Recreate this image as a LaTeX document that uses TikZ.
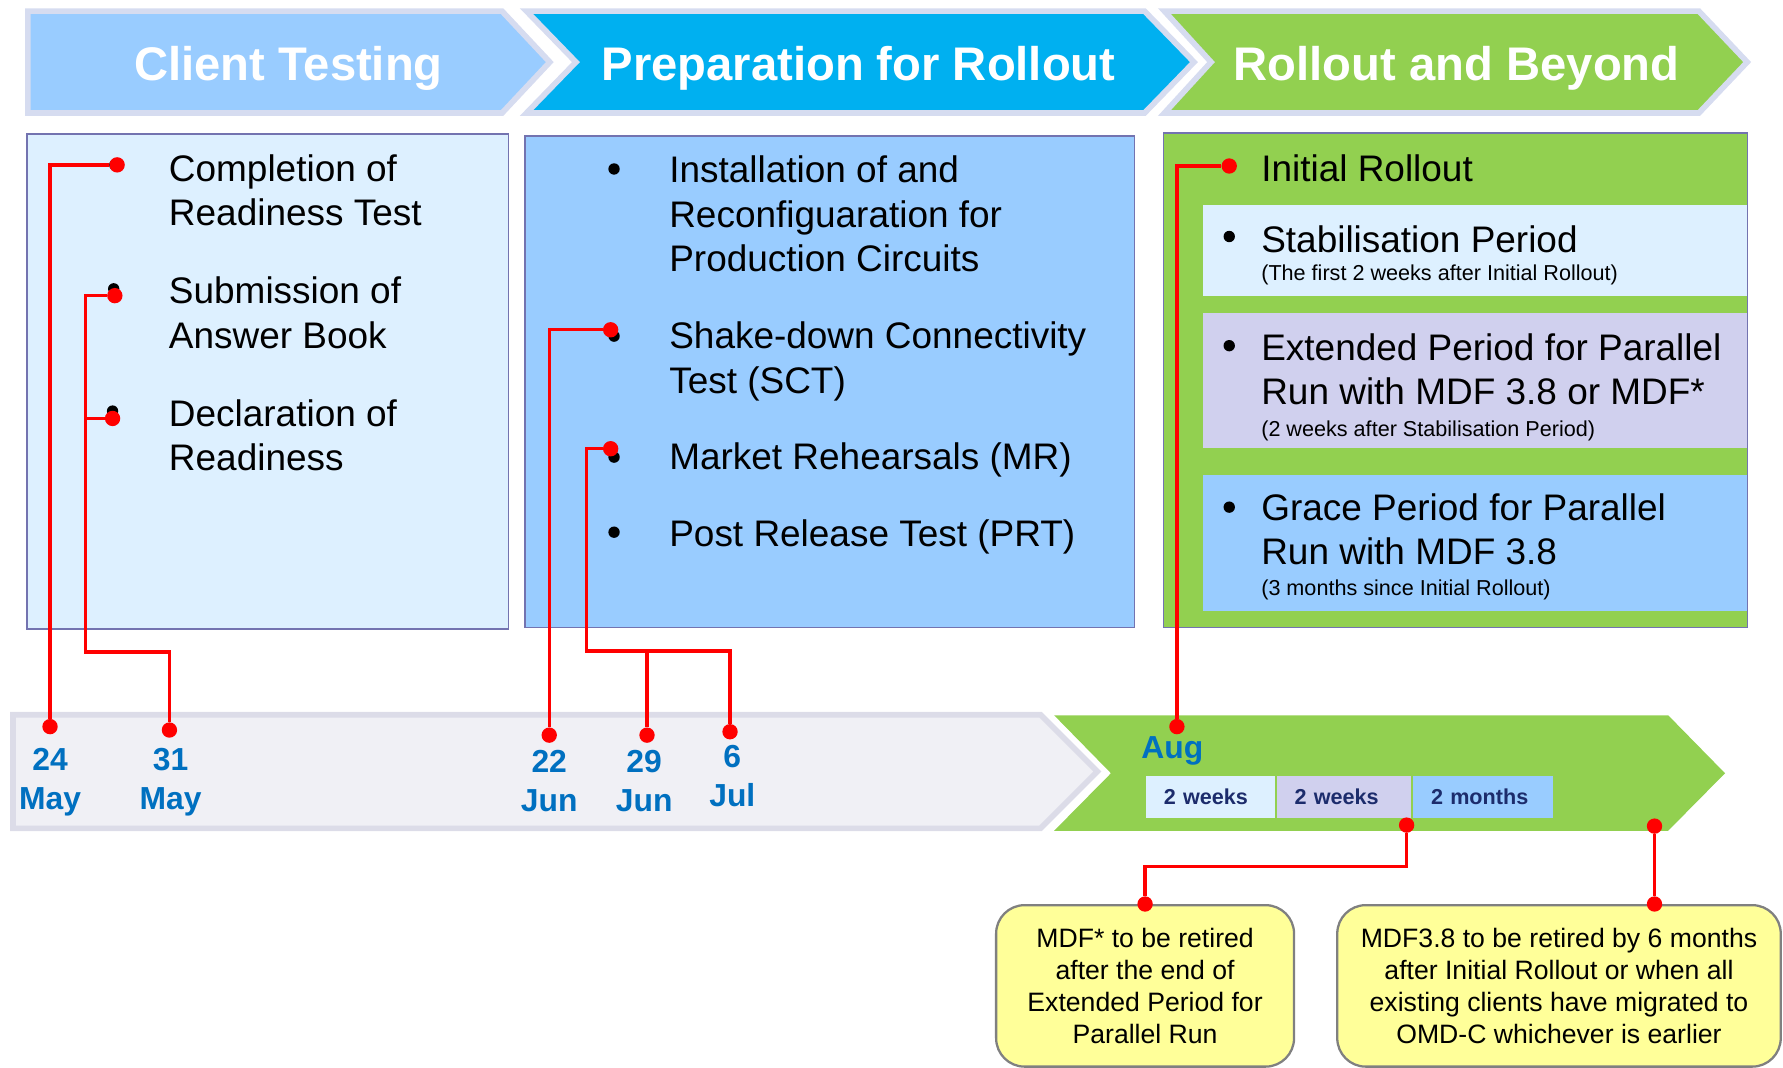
\documentclass[tikz,border=0pt]{standalone}
\usepackage{fontspec}
\setmainfont{Liberation Sans}
\usepackage{tikz}
\usetikzlibrary{calc}

\definecolor{hdredge}{HTML}{D6DCF0}
\definecolor{paleblue}{HTML}{DDF0FF}
\definecolor{midblue}{HTML}{99CCFF}
\definecolor{cyanhdr}{HTML}{00B0F0}
\definecolor{rolloutgreen}{HTML}{92D050}
\definecolor{lavender}{HTML}{D0D0EE}
\definecolor{paneledge}{HTML}{7373B0}
\definecolor{datecol}{HTML}{0070C0}
\definecolor{spantext}{HTML}{1C2C6C}
\definecolor{barfill}{HTML}{F0F0F5}
\definecolor{baredge}{HTML}{DCDCE8}
\definecolor{notefill}{HTML}{FFFF99}
\definecolor{noteedge}{HTML}{808080}

\tikzset{
    % chevrons of the three phases along the top
    phasearrow/.style={draw=hdredge, line width=5pt},
    phasetitle/.style={anchor=base, inner sep=0pt, text=white,
        font=\bfseries\fontsize{41.5}{50}\selectfont},
    % framed panels below the chevrons
    panelbox/.style={draw=paneledge, line width=1.2pt},
    itemtext/.style={anchor=north west, inner sep=0pt, align=left,
        font=\fontsize{32.5}{39}\selectfont},
    smalltext/.style={anchor=north west, inner sep=0pt,
        font=\fontsize{19}{23}\selectfont},
    itembullet/.style={circle, fill=black, inner sep=0pt, minimum size=10pt},
    % red pins and the lines joining them
    reddot/.style={circle, fill=red, inner sep=0pt, minimum size=13.5pt},
    redlink/.style={draw=red, line width=3pt},
    % timeline labels
    datelabel/.style={anchor=north, inner sep=0pt, align=center, text=datecol,
        font=\bfseries\fontsize{28}{34}\selectfont},
    spanbox/.style={minimum height=37pt, inner xsep=15.5pt, inner ysep=0pt,
        align=left, text=spantext, font=\bfseries\fontsize{19}{23}\selectfont},
    notebox/.style={draw=noteedge, fill=notefill, line width=2pt,
        rounded corners=25pt, align=center, inner sep=0pt,
        font=\fontsize{23.4}{28}\selectfont}
}

\begin{document}
\begin{tikzpicture}[x=1pt, y=-1pt]
    \useasboundingbox (0,0) rectangle (1568,939.2);
    \draw[phasearrow, fill=midblue] (24.5,9.8) -- (441.5,9.8) -- (483.5,54.6) -- (441.5,99.4) -- (24.5,99.4) -- cycle;
    \draw[phasearrow, fill=cyanhdr] (463,9.8) -- (1006.5,9.8) -- (1050,54.6) -- (1006.5,99.4) -- (463,99.4) -- (506.5,54.6) -- cycle;
    \draw[phasearrow, fill=rolloutgreen] (1024,9.8) -- (1494,9.8) -- (1536.5,54.6) -- (1494,99.4) -- (1024,99.4) -- (1065,54.6) -- cycle;
    \node[phasetitle] (ph1) at (253.7,70.4) {Client Testing};
    \node[phasetitle] (ph2) at (755,70.4) {Preparation for Rollout};
    \node[phasetitle] (ph3) at (1281,70.4) {Rollout and Beyond};

    \draw[panelbox, fill=paleblue] (23.6,117.7) rectangle (446.9,553);
    \draw[panelbox, fill=midblue] (461.7,119.6) rectangle (997.6,552);
    \draw[panelbox, fill=rolloutgreen] (1023,117) rectangle (1537,552);
    \fill[paleblue] (1057.6,180) rectangle (1536.4,260);
    \fill[lavender] (1057.6,275) rectangle (1536.4,394);
    \fill[midblue] (1057.6,418) rectangle (1536.4,537);

    \node[itemtext] (ct1) at (148.4,135.8) {Completion of\\Readiness Test};
    \node[itemtext] (ct2) at (148.4,243.3) {Submission of\\Answer Book};
    \node[itemtext] (ct3) at (148.4,351) {Declaration of\\Readiness};
    \node[itemtext] (pr1) at (588.4,137) {Installation of and\\Reconfiguaration for\\Production Circuits};
    \node[itemtext] (pr2) at (588.4,283) {Shake-down Connectivity\\Test (SCT)};
    \node[itemtext] (pr3) at (588.4,389.5) {Market Rehearsals (MR)};
    \node[itemtext] (pr4) at (588.4,457) {Post Release Test (PRT)};
    \node[itemtext] (ro1) at (1109,136) {Initial Rollout};
    \node[itemtext] (ro2) at (1109,198) {Stabilisation Period};
    \node[smalltext] (ro2s) at (1109,233) {(The first 2 weeks after Initial Rollout)};
    \node[itemtext] (ro3) at (1109,293) {Extended Period for Parallel\\Run with MDF 3.8 or MDF*};
    \node[smalltext] (ro3s) at (1109,369.5) {(2 weeks after Stabilisation Period)};
    \node[itemtext] (ro4) at (1109,434) {Grace Period for Parallel\\Run with MDF 3.8};
    \node[smalltext] (ro4s) at (1109,509.5) {(3 months since Initial Rollout)};
    \foreach \x/\y [count=\i] in {101/145, 100/254, 99/361.5, 540/148.6, 540/295.6,
        540/402, 540/468, 1081/146, 1081/208, 1081/304, 1081/446} {
        \node[itembullet] (bul\i) at (\x,\y) {};
    }

    \draw[line width=5pt, draw=baredge, fill=barfill] (11.5,628.5) -- (915,628.5) -- (965,678.5) -- (915,728.5) -- (11.5,728.5) -- cycle;
    \fill[rolloutgreen] (927,629) -- (1467,629) -- (1517,680) -- (1467,730.6) -- (927,730.6) -- (977,680) -- cycle;
    \node[spanbox, fill=paleblue, text width=82pt] (wk1) at (1064.5,701) {2 weeks};
    \node[spanbox, fill=lavender, text width=86.7pt] (wk2) at (1181.85,701) {2 weeks};
    \node[spanbox, fill=midblue, text width=92pt] (wk3) at (1304.5,701) {2 months};
    \node[datelabel] (aug) at (1031,648) {Aug};
    \foreach \n/\dx/\dy/\lx/\ly/\dd/\mm in {d24/44/639/44/658/24/May, d31/149/642/150/658/31/May,
        d22/483/646.5/483/660/22/Jun, d29/569/646.5/566.5/660/29/Jun, d6/642/643.5/644/655.5/6/Jul} {
        \node[reddot] (\n) at (\dx,\dy) {};
        \node[datelabel] (lbl\n) at (\lx,\ly) {\dd\\\mm};
    }

    \node[notebox, minimum width=262pt, minimum height=142pt] (noteA) at (1007,867)
        {MDF* to be retired\\after the end of\\Extended Period for\\Parallel Run};
    \node[notebox, minimum width=390pt, minimum height=142pt] (noteB) at (1371,867)
        {MDF3.8 to be retired by 6 months\\after Initial Rollout or when all\\existing clients have migrated to\\OMD-C whichever is earlier};

    \foreach \n/\x/\y in {b1/103/145, b2/101/260, b3/99/368, bSCT/537/290, bMR/537/394.6,
        bInit/1081/146, dAug/1035/639, dEnd/1237/725.6, dEnd2/1455/726.5} {
        \node[reddot] (\n) at (\x,\y) {};
    }
    \node[reddot] (dA) at (noteA.north) {};
    \node[reddot] (dB) at (noteB.north -| dEnd2) {};

    \begin{scope}[redlink]
        \coordinate (j31) at (75,573.5);
        \coordinate (jMR) at (516,572.6);
        \coordinate (jEnd) at (1120,762);
        \draw (d24) |- (b1);
        \draw (d31) |- (j31) |- (b2);
        \draw (j31) |- (b3);
        \draw (d22) |- (bSCT);
        \draw (d6) |- (jMR) |- (bMR);
        \draw (d29) -- (d29 |- jMR);
        \draw (dAug) |- (bInit);
        \draw (dEnd) |- (jEnd) -| (dA);
        \draw (dEnd2) -- (dB);
    \end{scope}
\end{tikzpicture}
\end{document}
